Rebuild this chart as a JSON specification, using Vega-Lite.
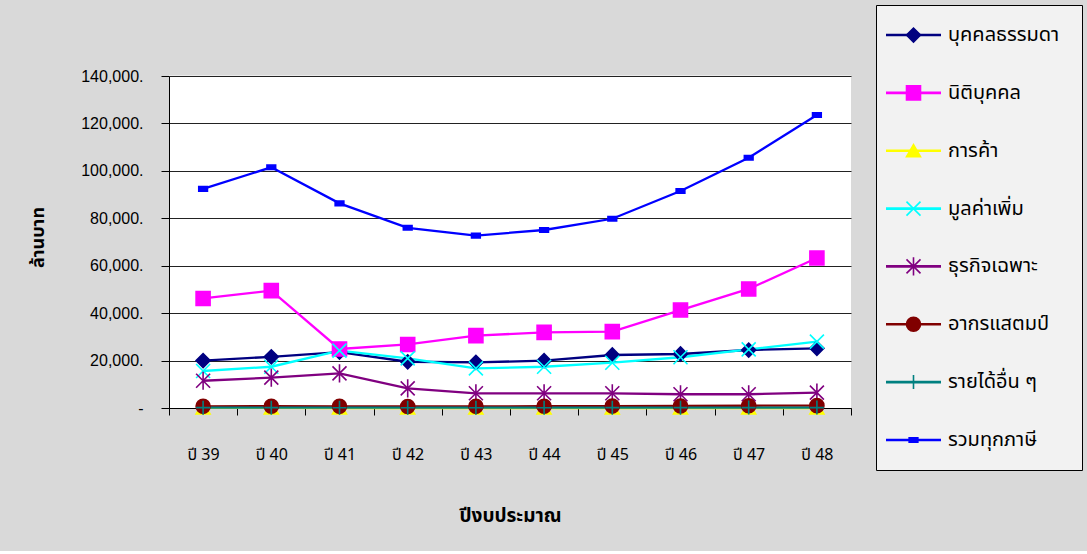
{
  "$schema": "https://vega.github.io/schema/vega-lite/v6.json",
  "autosize": "pad",
  "padding": {"left": 29, "top": 2, "right": 5, "bottom": 26},
  "background": "#d9d9d9",
  "spacing": 23,
  "config": {
    "view": {"stroke": null},
    "font": "Tahoma, 'Noto Sans Thai', 'Noto Sans', 'DejaVu Sans', sans-serif"
  },
  "datasets": {
    "tax": [
      {"year": "ปี 39", "series": "บุคคลธรรมดา", "value": 20000},
      {"year": "ปี 40", "series": "บุคคลธรรมดา", "value": 21600},
      {"year": "ปี 41", "series": "บุคคลธรรมดา", "value": 23600},
      {"year": "ปี 42", "series": "บุคคลธรรมดา", "value": 19500},
      {"year": "ปี 43", "series": "บุคคลธรรมดา", "value": 19250},
      {"year": "ปี 44", "series": "บุคคลธรรมดา", "value": 19950},
      {"year": "ปี 45", "series": "บุคคลธรรมดา", "value": 22350},
      {"year": "ปี 46", "series": "บุคคลธรรมดา", "value": 22770},
      {"year": "ปี 47", "series": "บุคคลธรรมดา", "value": 24450},
      {"year": "ปี 48", "series": "บุคคลธรรมดา", "value": 25150},
      {"year": "ปี 39", "series": "นิติบุคคล", "value": 46200},
      {"year": "ปี 40", "series": "นิติบุคคล", "value": 49500},
      {"year": "ปี 41", "series": "นิติบุคคล", "value": 24900},
      {"year": "ปี 42", "series": "นิติบุคคล", "value": 26800},
      {"year": "ปี 43", "series": "นิติบุคคล", "value": 30500},
      {"year": "ปี 44", "series": "นิติบุคคล", "value": 31900},
      {"year": "ปี 45", "series": "นิติบุคคล", "value": 32200},
      {"year": "ปี 46", "series": "นิติบุคคล", "value": 41300},
      {"year": "ปี 47", "series": "นิติบุคคล", "value": 50200},
      {"year": "ปี 48", "series": "นิติบุคคล", "value": 63250},
      {"year": "ปี 39", "series": "การค้า", "value": 40},
      {"year": "ปี 40", "series": "การค้า", "value": 20},
      {"year": "ปี 41", "series": "การค้า", "value": 10},
      {"year": "ปี 42", "series": "การค้า", "value": 5},
      {"year": "ปี 43", "series": "การค้า", "value": 3},
      {"year": "ปี 44", "series": "การค้า", "value": 2},
      {"year": "ปี 45", "series": "การค้า", "value": 1},
      {"year": "ปี 46", "series": "การค้า", "value": 1},
      {"year": "ปี 47", "series": "การค้า", "value": 1},
      {"year": "ปี 48", "series": "การค้า", "value": 1},
      {"year": "ปี 39", "series": "มูลค่าเพิ่ม", "value": 15600},
      {"year": "ปี 40", "series": "มูลค่าเพิ่ม", "value": 17400},
      {"year": "ปี 41", "series": "มูลค่าเพิ่ม", "value": 24200},
      {"year": "ปี 42", "series": "มูลค่าเพิ่ม", "value": 20900},
      {"year": "ปี 43", "series": "มูลค่าเพิ่ม", "value": 16700},
      {"year": "ปี 44", "series": "มูลค่าเพิ่ม", "value": 17400},
      {"year": "ปี 45", "series": "มูลค่าเพิ่ม", "value": 19100},
      {"year": "ปี 46", "series": "มูลค่าเพิ่ม", "value": 21400},
      {"year": "ปี 47", "series": "มูลค่าเพิ่ม", "value": 24700},
      {"year": "ปี 48", "series": "มูลค่าเพิ่ม", "value": 28000},
      {"year": "ปี 39", "series": "ธุรกิจเฉพาะ", "value": 11500},
      {"year": "ปี 40", "series": "ธุรกิจเฉพาะ", "value": 12800},
      {"year": "ปี 41", "series": "ธุรกิจเฉพาะ", "value": 14600},
      {"year": "ปี 42", "series": "ธุรกิจเฉพาะ", "value": 8300},
      {"year": "ปี 43", "series": "ธุรกิจเฉพาะ", "value": 6200},
      {"year": "ปี 44", "series": "ธุรกิจเฉพาะ", "value": 6200},
      {"year": "ปี 45", "series": "ธุรกิจเฉพาะ", "value": 6200},
      {"year": "ปี 46", "series": "ธุรกิจเฉพาะ", "value": 5800},
      {"year": "ปี 47", "series": "ธุรกิจเฉพาะ", "value": 5800},
      {"year": "ปี 48", "series": "ธุรกิจเฉพาะ", "value": 6500},
      {"year": "ปี 39", "series": "อากรแสตมป์", "value": 700},
      {"year": "ปี 40", "series": "อากรแสตมป์", "value": 750},
      {"year": "ปี 41", "series": "อากรแสตมป์", "value": 700},
      {"year": "ปี 42", "series": "อากรแสตมป์", "value": 650},
      {"year": "ปี 43", "series": "อากรแสตมป์", "value": 700},
      {"year": "ปี 44", "series": "อากรแสตมป์", "value": 750},
      {"year": "ปี 45", "series": "อากรแสตมป์", "value": 800},
      {"year": "ปี 46", "series": "อากรแสตมป์", "value": 850},
      {"year": "ปี 47", "series": "อากรแสตมป์", "value": 950},
      {"year": "ปี 48", "series": "อากรแสตมป์", "value": 1000},
      {"year": "ปี 39", "series": "รายได้อื่น ๆ", "value": 150},
      {"year": "ปี 40", "series": "รายได้อื่น ๆ", "value": 150},
      {"year": "ปี 41", "series": "รายได้อื่น ๆ", "value": 120},
      {"year": "ปี 42", "series": "รายได้อื่น ๆ", "value": 130},
      {"year": "ปี 43", "series": "รายได้อื่น ๆ", "value": 120},
      {"year": "ปี 44", "series": "รายได้อื่น ๆ", "value": 130},
      {"year": "ปี 45", "series": "รายได้อื่น ๆ", "value": 140},
      {"year": "ปี 46", "series": "รายได้อื่น ๆ", "value": 150},
      {"year": "ปี 47", "series": "รายได้อื่น ๆ", "value": 160},
      {"year": "ปี 48", "series": "รายได้อื่น ๆ", "value": 170},
      {"year": "ปี 39", "series": "รวมทุกภาษี", "value": 92400},
      {"year": "ปี 40", "series": "รวมทุกภาษี", "value": 101500},
      {"year": "ปี 41", "series": "รวมทุกภาษี", "value": 86300},
      {"year": "ปี 42", "series": "รวมทุกภาษี", "value": 76000},
      {"year": "ปี 43", "series": "รวมทุกภาษี", "value": 72700},
      {"year": "ปี 44", "series": "รวมทุกภาษี", "value": 75060},
      {"year": "ปี 45", "series": "รวมทุกภาษี", "value": 79800},
      {"year": "ปี 46", "series": "รวมทุกภาษี", "value": 91500},
      {"year": "ปี 47", "series": "รวมทุกภาษี", "value": 105500},
      {"year": "ปี 48", "series": "รวมทุกภาษี", "value": 123550}
    ],
    "legend": [
      {"series": "บุคคลธรรมดา"},
      {"series": "นิติบุคคล"},
      {"series": "การค้า"},
      {"series": "มูลค่าเพิ่ม"},
      {"series": "ธุรกิจเฉพาะ"},
      {"series": "อากรแสตมป์"},
      {"series": "รายได้อื่น ๆ"},
      {"series": "รวมทุกภาษี"}
    ]
  },
  "hconcat": [
    {
      "width": 682,
      "height": 403,
      "view": {"fill": "white", "stroke": null},
      "layer": [
        {
          "data": {"values": [{"lo": 140250, "hi": 171000}]},
          "mark": {"type": "rect", "fill": "#d9d9d9", "clip": false},
          "encoding": {
            "y": {
              "field": "lo",
              "type": "quantitative",
              "scale": {"domain": [0, 140000], "nice": false, "zero": false, "range": [403, 71]},
              "axis": {
                "title": "ล้านบาท",
                "titleX": -131,
                "titleY": 232,
                "titleAlign": "center",
                "titleBaseline": "middle",
                "titleFontSize": 18,
                "titleFontWeight": "bold",
                "titleColor": "#000",
                "values": [0, 20000, 40000, 60000, 80000, 100000, 120000, 140000],
                "labelExpr": "datum.value == 0 ? '-' : format(datum.value, ',') + '.'",
                "labelFont": "Liberation Sans, Arial, sans-serif",
                "labelFontSize": 16,
                "labelColor": "#000",
                "labelPadding": 18,
                "tickSize": 8,
                "tickColor": "#000",
                "domainColor": "#000",
                "grid": true,
                "gridColor": "#222",
                "gridWidth": 1
              }
            },
            "y2": {"field": "hi"}
          }
        },
        {
          "data": {"name": "tax"},
          "mark": {"type": "line", "strokeWidth": 2.3},
          "encoding": {
            "x": {
              "field": "year",
              "type": "nominal",
              "sort": ["ปี 39", "ปี 40", "ปี 41", "ปี 42", "ปี 43", "ปี 44", "ปี 45", "ปี 46", "ปี 47", "ปี 48"],
              "scale": {"type": "band", "paddingInner": 0, "paddingOuter": 0},
              "axis": {
                "title": "ปีงบประมาณ",
                "titleFontSize": 19,
                "titleFontWeight": "bold",
                "titleColor": "#000",
                "titleY": 107,
                "titleBaseline": "middle",
                "labelAngle": 0,
                "labelFontSize": 16,
                "labelColor": "#000",
                "labelPadding": 31,
                "tickBand": "extent",
                "tickSize": 7,
                "tickColor": "#000",
                "domainColor": "#000",
                "grid": false
              }
            },
            "y": {
              "field": "value",
              "type": "quantitative",
              "axis": {
                "title": "ล้านบาท",
                "titleX": -131,
                "titleY": 232,
                "titleAlign": "center",
                "titleBaseline": "middle",
                "titleFontSize": 18,
                "titleFontWeight": "bold",
                "titleColor": "#000",
                "values": [0, 20000, 40000, 60000, 80000, 100000, 120000, 140000],
                "labelExpr": "datum.value == 0 ? '-' : format(datum.value, ',') + '.'",
                "labelFont": "Liberation Sans, Arial, sans-serif",
                "labelFontSize": 16,
                "labelColor": "#000",
                "labelPadding": 18,
                "tickSize": 8,
                "tickColor": "#000",
                "domainColor": "#000",
                "grid": true,
                "gridColor": "#222",
                "gridWidth": 1
              }
            },
            "color": {
              "field": "series",
              "type": "nominal",
              "scale": {
                "domain": ["บุคคลธรรมดา", "นิติบุคคล", "การค้า", "มูลค่าเพิ่ม", "ธุรกิจเฉพาะ", "อากรแสตมป์", "รายได้อื่น ๆ", "รวมทุกภาษี"],
                "range": ["#000080", "#ff00ff", "#ffff00", "#00ffff", "#800080", "#800000", "#008080", "#0000ff"]
              },
              "legend": null
            }
          }
        },
        {
          "data": {"name": "tax"},
          "mark": {"type": "point", "filled": true, "opacity": 1, "strokeWidth": 1.6, "size": 196},
          "encoding": {
            "x": {
              "field": "year",
              "type": "nominal",
              "sort": ["ปี 39", "ปี 40", "ปี 41", "ปี 42", "ปี 43", "ปี 44", "ปี 45", "ปี 46", "ปี 47", "ปี 48"]
            },
            "y": {"field": "value", "type": "quantitative"},
            "color": {
              "field": "series",
              "type": "nominal",
              "legend": null
            },
            "shape": {
              "field": "series",
              "type": "nominal",
              "scale": {
                "domain": ["บุคคลธรรมดา", "นิติบุคคล", "การค้า", "มูลค่าเพิ่ม", "ธุรกิจเฉพาะ", "อากรแสตมป์", "รายได้อื่น ๆ", "รวมทุกภาษี"],
                "range": ["diamond", "square", "triangle-up", "M-1,-1L1,1M-1,1L1,-1", "M-1,-1L1,1M-1,1L1,-1M0,-1.3L0,1.3", "circle", "M-1,0L1,0M0,-1L0,1", "M-0.62,-0.32L0.62,-0.32L0.62,0.32L-0.62,0.32Z"]
              },
              "legend": null
            },
            "stroke": {
              "field": "series",
              "type": "nominal",
              "scale": {
                "domain": ["บุคคลธรรมดา", "นิติบุคคล", "การค้า", "มูลค่าเพิ่ม", "ธุรกิจเฉพาะ", "อากรแสตมป์", "รายได้อื่น ๆ", "รวมทุกภาษี"],
                "range": ["#000080", "#ff00ff", "#ffff00", "#00ffff", "#800080", "#800000", "#008080", "#0000ff"]
              },
              "legend": null
            }
          }
        }
      ]
    },
    {
      "width": 206,
      "height": 465,
      "view": {"fill": "#f2f2f2", "stroke": "#000", "strokeWidth": 1},
      "data": {"name": "legend"},
      "encoding": {
        "y": {
          "field": "series",
          "type": "nominal",
          "sort": ["บุคคลธรรมดา", "นิติบุคคล", "การค้า", "มูลค่าเพิ่ม", "ธุรกิจเฉพาะ", "อากรแสตมป์", "รายได้อื่น ๆ", "รวมทุกภาษี"],
          "scale": {"type": "point", "padding": 0.52},
          "axis": null
        },
        "color": {
          "field": "series",
          "type": "nominal",
          "scale": {
            "domain": ["บุคคลธรรมดา", "นิติบุคคล", "การค้า", "มูลค่าเพิ่ม", "ธุรกิจเฉพาะ", "อากรแสตมป์", "รายได้อื่น ๆ", "รวมทุกภาษี"],
            "range": ["#000080", "#ff00ff", "#ffff00", "#00ffff", "#800080", "#800000", "#008080", "#0000ff"]
          },
          "legend": null
        }
      },
      "layer": [
        {
          "mark": {"type": "rule", "strokeWidth": 2.6},
          "encoding": {
            "x": {"datum": 10, "type": "quantitative", "scale": {"domain": [0, 206], "nice": false, "zero": false}, "axis": null},
            "x2": {"datum": 65}
          }
        },
        {
          "mark": {"type": "point", "filled": true, "opacity": 1, "strokeWidth": 1.6, "size": 196},
          "encoding": {
            "x": {"datum": 37.5, "type": "quantitative"},
            "shape": {
              "field": "series",
              "type": "nominal",
              "scale": {
                "domain": ["บุคคลธรรมดา", "นิติบุคคล", "การค้า", "มูลค่าเพิ่ม", "ธุรกิจเฉพาะ", "อากรแสตมป์", "รายได้อื่น ๆ", "รวมทุกภาษี"],
                "range": ["diamond", "square", "triangle-up", "M-1,-1L1,1M-1,1L1,-1", "M-1,-1L1,1M-1,1L1,-1M0,-1.3L0,1.3", "circle", "M-1,0L1,0M0,-1L0,1", "M-0.62,-0.32L0.62,-0.32L0.62,0.32L-0.62,0.32Z"]
              },
              "legend": null
            },
            "stroke": {
              "field": "series",
              "type": "nominal",
              "scale": {
                "domain": ["บุคคลธรรมดา", "นิติบุคคล", "การค้า", "มูลค่าเพิ่ม", "ธุรกิจเฉพาะ", "อากรแสตมป์", "รายได้อื่น ๆ", "รวมทุกภาษี"],
                "range": ["#000080", "#ff00ff", "#ffff00", "#00ffff", "#800080", "#800000", "#008080", "#0000ff"]
              },
              "legend": null
            }
          }
        },
        {
          "mark": {"type": "text", "align": "left", "baseline": "middle", "fontSize": 20, "color": "#000"},
          "encoding": {
            "x": {"datum": 72, "type": "quantitative"},
            "text": {"field": "series"},
            "color": {"value": "#000"}
          }
        }
      ]
    }
  ]
}
